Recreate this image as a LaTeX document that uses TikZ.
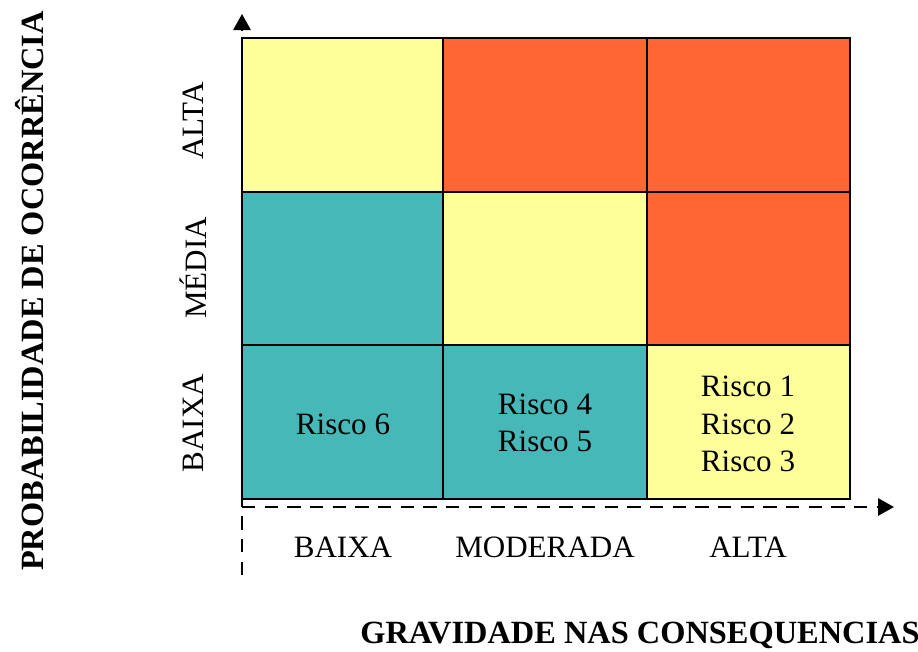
\documentclass[tikz,border=0pt]{standalone}
\usepackage{fontspec}
\setmainfont{Liberation Serif}
\usetikzlibrary{arrows.meta}

\definecolor{riskyellow}{HTML}{FFFF99}
\definecolor{riskorange}{HTML}{FF6633}
\definecolor{riskteal}{HTML}{47B8B8}

\begin{document}
\begin{tikzpicture}[x=0.75pt,y=-0.75pt,
    cell/.style={draw=black, line width=1pt},
    axis/.style={line width=1.4pt, dash pattern=on 10pt off 7pt, -{Triangle[length=12pt,width=13pt]}},
    lbl/.style={font=\fontsize{23.3}{28}\selectfont, align=center},
    title/.style={font=\fontsize{24.3}{29}\selectfont\bfseries}]
    \useasboundingbox (0,0) rectangle (918,651);
    % cells
    \draw[cell, fill=riskyellow] (242,38) rectangle (443,192);
    \draw[cell, fill=riskorange] (443,38) rectangle (647,192);
    \draw[cell, fill=riskorange] (647,38) rectangle (850,192);
    \draw[cell, fill=riskteal] (242,192) rectangle (443,345);
    \draw[cell, fill=riskyellow] (443,192) rectangle (647,345);
    \draw[cell, fill=riskorange] (647,192) rectangle (850,345);
    \draw[cell, fill=riskteal] (242,345) rectangle (443,499);
    \draw[cell, fill=riskteal] (443,345) rectangle (647,499);
    \draw[cell, fill=riskyellow] (647,345) rectangle (850,499);
    % axes
    \coordinate (ybot) at (242,575);
    \coordinate (ytop) at (242,14);
    \coordinate (xleft) at (242,507);
    \coordinate (xright) at (894,507);
    \draw[axis] (ybot) -- (ytop);
    \draw[axis] (xleft) -- (xright);
    % texts in cells
    \node[lbl] (r6) at (343,424) {Risco 6};
    \node[lbl] (r45) at (545,423) {Risco 4\\Risco 5};
    \node[lbl] (r123) at (748,424) {Risco 1\\Risco 2\\Risco 3};
    % column labels
    \node[lbl] (gbaixa) at (343,547) {BAIXA};
    \node[lbl] (gmod) at (545,547) {MODERADA};
    \node[lbl] (galta) at (748,547) {ALTA};
    % row labels
    \node[lbl, rotate=90] (palta) at (193,121) {ALTA};
    \node[lbl, rotate=90] (pmedia) at (193,268) {MÉDIA};
    \node[lbl, rotate=90] (pbaixa) at (193,423) {BAIXA};
    % titles
    \node[title, rotate=90] (ytitle) at (30,291) {PROBABILIDADE DE OCORRÊNCIA};
    \node[title] (xtitle) at (640,635) {GRAVIDADE NAS CONSEQUENCIAS};
\end{tikzpicture}
\end{document}
